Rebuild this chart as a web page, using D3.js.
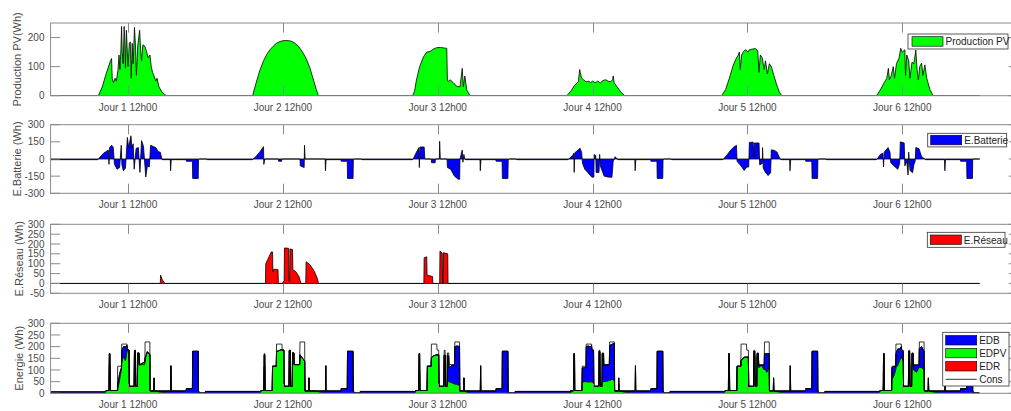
<!DOCTYPE html>
<html>
<head>
<meta charset="utf-8">
<script src="https://cdn.jsdelivr.net/npm/d3@7/dist/d3.min.js"></script>
<style>
  body { margin: 0; background: #fff; }
  svg text { font-family: "Liberation Sans", Arial, Helvetica, sans-serif; }
</style>
</head>
<body>
<svg id="chart" width="1011" height="411"></svg>
<script>
// ---- time axis (hours from day 1, 00h00) ----
const xTicks = [12, 36, 60, 84, 108, 132];
const xTickLabels = ["Jour 1 12h00", "Jour 2 12h00", "Jour 3 12h00", "Jour 4 12h00", "Jour 5 12h00", "Jour 6 12h00"];

// ---- PV production (Wh), [hour, value] ----
const pvProduction = [
  [0,0],[7.4,0],[8.0,30],[8.6,75],[9.2,115],[9.45,128],[9.55,60],[9.75,45],[10.0,60],[10.2,50],[10.45,90],[10.6,140],[10.75,90],[10.9,160],[11.0,238],[11.1,150],[11.25,110],[11.4,238],[11.5,190],[11.6,95],[11.75,225],[11.85,170],[12.0,100],[12.2,180],[12.35,185],[12.5,60],[12.65,180],[12.8,110],[13.0,235],[13.15,175],[13.3,70],[13.5,170],[13.8,225],[13.95,160],[14.1,120],[14.3,175],[14.6,170],[14.9,150],[15.1,130],[15.4,140],[15.6,100],[15.8,80],[16.0,70],[16.3,50],[16.5,60],[16.8,30],[17.2,15],[17.6,5],[18.0,0],
  [31.3,0],[31.8,40],[32.4,85],[33.0,120],[33.5,142],[34.0,158],[34.5,170],[35.0,180],[35.5,186],[36.0,189],[36.6,190],[37.2,188],[37.8,182],[38.4,170],[39.0,152],[39.6,128],[40.2,95],[40.8,50],[41.2,20],[41.5,0],
  [56.1,0],[56.4,15],[56.7,54],[57.2,100],[57.8,134],[58.3,150],[58.8,152],[59.3,160],[59.8,165],[60.4,166],[61.0,164],[61.4,163],[61.5,54],[61.65,48],[61.9,55],[62.4,45],[62.9,33],[63.45,30],[63.8,94],[63.97,30],[64.2,68],[64.5,20],[65.0,0],
  [80.0,0],[80.6,15],[81.2,35],[81.8,48],[82.0,90],[82.1,80],[82.3,60],[82.6,55],[83.0,48],[83.4,50],[83.7,45],[84.0,50],[84.4,45],[84.8,50],[85.2,44],[85.6,52],[86.0,55],[86.4,50],[86.8,48],[87.1,55],[87.2,68],[87.35,45],[87.8,30],[88.4,12],[89.0,0],
  [104.0,0],[104.6,20],[105.2,60],[105.8,105],[106.3,130],[106.6,140],[106.75,150],[106.9,90],[107.1,140],[107.5,155],[107.8,158],[108.1,150],[108.3,158],[108.7,160],[109.2,162],[109.6,155],[109.8,80],[110.0,140],[110.3,130],[110.6,90],[110.8,120],[111.1,75],[111.4,110],[111.7,100],[112.1,70],[112.5,40],[112.9,15],[113.3,0],
  [128.0,0],[128.6,20],[129.2,45],[129.6,60],[129.85,94],[130.0,55],[130.3,70],[130.6,100],[130.8,60],[131.1,110],[131.5,130],[131.76,163],[132.0,150],[132.4,158],[132.5,70],[132.7,140],[133.0,120],[133.2,60],[133.5,115],[133.8,110],[134.1,157],[134.3,90],[134.5,54],[134.7,100],[135.0,112],[135.2,70],[135.5,106],[135.8,60],[136.3,20],[136.8,0],[144,0]
];

// ---- battery energy (Wh), [hour, value]: >0 charge, <0 discharge ----
const batteryEnergy = [
  [0,-6],[7.3,-6],[7.4,0],[8.2,50],[8.95,78],[9.05,-47],[9.15,100],[9.45,120],[9.7,105],[9.9,-47],[10.3,-89],[10.7,-75],[10.95,120],[11.05,-50],[11.27,-103],[11.6,-80],[11.9,189],[12.1,100],[12.2,130],[12.45,203],[12.6,100],[12.8,133],[12.95,-89],[13.25,92],[13.6,100],[13.85,-117],[14.1,161],[14.4,110],[14.75,-158],[15.0,-61],[15.3,-70],[15.5,120],[15.9,110],[16.3,100],[16.7,64],[17.0,60],[17.25,0],[17.3,-6],[18.55,-6],[18.6,-103],[18.7,-6],[21.0,-6],[21.05,-20],[21.98,-20],[22.02,-170],[22.88,-170],[22.92,-6],[23.1,0],[24.2,0],
  [24.25,-6],[31.3,-6],[31.4,0],[31.8,20],[32.45,64],[33.0,108],[33.05,-47],[33.2,0],[35.3,0],[35.35,-20],[35.8,-20],[35.85,0],[38.65,0],[38.7,-60],[39.3,-75],[39.35,120],[39.45,0],[42.55,0],[42.6,-103],[42.7,-6],[45.0,-6],[45.05,-20],[45.98,-20],[46.02,-170],[46.88,-170],[46.92,-6],[47.1,0],[48.2,0],
  [48.25,-6],[56.1,-6],[56.2,0],[56.7,60],[57.1,100],[57.15,-75],[57.25,105],[57.9,105],[58.0,0],[59.0,0],[59.05,-33],[59.6,-33],[59.65,0],[60.25,0],[60.3,155],[60.4,0],[61.45,0],[61.5,-75],[62.0,-89],[62.6,-150],[63.2,-178],[63.4,-178],[63.45,0],[63.8,78],[63.9,-28],[64.05,40],[64.2,0],[64.3,-6],[66.55,-6],[66.6,-103],[66.7,-6],[69.0,-6],[69.05,-20],[69.98,-20],[70.02,-170],[70.88,-170],[70.92,-6],[71.1,0],[72.2,0],
  [72.25,-6],[80.2,-6],[80.3,0],[80.9,30],[81.1,50],[81.15,-117],[81.25,55],[81.8,80],[82.05,95],[82.3,60],[82.45,-40],[82.8,-90],[83.3,-120],[83.9,-160],[84.2,-158],[84.25,40],[84.5,30],[84.55,-117],[85.0,-117],[85.1,40],[85.2,-60],[85.8,-150],[86.4,-158],[87.0,-160],[87.2,-20],[87.5,20],[87.8,0],[88.0,-6],[90.55,-6],[90.6,-103],[90.7,-6],[93.0,-6],[93.05,-20],[93.98,-20],[94.02,-170],[94.88,-170],[94.92,-6],[95.1,0],[96.2,0],
  [96.25,-6],[104.2,-6],[104.3,0],[104.9,40],[105.3,70],[105.8,100],[106.3,120],[106.4,-20],[107.0,-60],[107.5,-100],[107.9,-70],[108.2,-70],[108.3,145],[108.9,147],[109.0,20],[109.1,140],[109.8,140],[109.9,-50],[110.3,-40],[110.35,100],[110.45,-80],[110.8,-117],[111.2,-145],[111.6,-120],[111.7,80],[112.2,75],[112.6,60],[112.9,20],[113.1,0],[113.2,-6],[114.55,-6],[114.6,-103],[114.7,-6],[117.0,-6],[117.05,-20],[117.98,-20],[118.02,-170],[118.88,-170],[118.92,-6],[119.1,0],[120.2,0],
  [120.25,-6],[128.0,-6],[128.1,0],[128.6,40],[129.0,50],[129.1,-70],[129.2,60],[129.8,100],[130.1,60],[130.2,-30],[130.7,-60],[131.3,-90],[131.6,-40],[131.7,150],[132.3,140],[132.4,-60],[132.7,-20],[132.9,-140],[133.0,60],[133.2,-100],[133.6,-120],[133.8,-50],[134.0,-20],[134.1,100],[134.6,90],[135.0,20],[135.4,5],[135.6,-6],[138.55,-6],[138.6,-103],[138.7,-6],[141.0,-6],[141.05,-20],[141.98,-20],[142.02,-170],[142.88,-170],[142.92,-6],[143.1,0],[144,0]
];

// ---- grid energy (Wh), [hour, value] ----
const gridEnergy = [
  [0,0],[17.0,0],[17.05,42],[17.3,20],[17.7,0],
  [33.3,0],[33.35,100],[34.2,160],[34.4,160],[34.45,60],[34.6,72],[35.25,70],[35.3,0],[35.9,0],[36.2,15],[36.25,180],[36.9,178],[36.95,10],[37.05,10],[37.1,175],[37.5,172],[37.55,70],[38.0,60],[38.5,35],[38.8,0],[39.55,0],[39.6,110],[40.2,95],[40.9,60],[41.4,20],[41.5,0],
  [57.85,0],[57.9,130],[58.3,135],[58.35,42],[59.2,35],[59.25,0],[60.3,0],[60.35,164],[60.7,155],[60.75,0],[60.85,0],[60.9,156],[61.55,150],[61.6,0],
  [144,0]
];

// ---- energy balance: one grid of hours within a day ----
const dayStarts = [0, 24, 48, 72, 96, 120];
const energyHours = [0,8.3,8.55,8.6,9.05,9.1,9.2,9.25,9.8,10.35,10.4,10.7,10.98,11.02,11.3,11.6,11.85,11.9,12.15,12.2,12.95,13.0,13.15,13.2,13.45,13.5,13.7,13.75,14.2,14.6,14.65,15.0,15.38,15.42,16.02,16.05,16.1,17.0,18.6,18.65,18.7,21.0,21.05,21.98,22.02,22.88,22.92,23.1,23.95];
// daily consumption profile (same each day)
const consProfile = [6,6,6,12,12,170,170,12,12,12,116,116,116,211,211,211,211,185,185,30,30,184,184,30,30,173,173,123,123,123,220,220,220,10,10,66,10,10,10,118,10,10,20,20,180,180,10,3,3];

const edpvJour1 = [0,0,8,12,12,120,120,12,12,12,15,60,105,130,160,140,180,185,185,30,30,175,175,30,30,170,170,120,128,135,150,178,165,10,10,60,10,5,0,0,0,0,0,0,0,0,0,0,0];
const edpvJour2 = [0,0,6,12,12,115,115,12,12,12,116,116,116,178,182,185,187,185,185,30,30,184,184,30,30,173,173,123,123,123,165,152,138,10,10,66,10,10,0,0,0,0,0,0,0,0,0,0,0];
const edpvJour3 = [0,0,6,12,12,100,100,12,12,12,116,116,116,152,160,163,165,165,165,30,30,163,163,30,30,54,50,50,45,40,40,38,35,10,10,66,10,0,0,0,0,0,0,0,0,0,0,0,0];
const edpvJour4 = [0,0,0,5,10,25,25,12,12,12,48,50,50,50,48,50,48,50,45,30,30,50,48,30,30,50,50,50,52,55,55,60,55,10,10,40,10,5,0,0,0,0,0,0,0,0,0,0,0];
const edpvJour5 = [0,0,10,12,12,60,60,12,12,12,116,116,116,140,150,155,155,155,155,30,30,160,160,30,30,155,150,110,120,100,110,90,110,10,10,66,10,5,0,0,0,0,0,0,0,0,0,0,0];
const edpvJour6 = [0,0,10,12,12,50,50,12,12,12,60,75,100,110,120,140,160,150,140,30,30,140,130,30,30,110,120,100,90,110,112,110,100,10,10,50,10,5,0,0,0,0,0,0,0,0,0,0,0];

const edbJour1 = [6,6,0,0,0,50,50,0,0,0,20,25,5,50,40,60,25,0,0,0,0,9,9,0,0,3,3,3,0,0,0,0,0,0,0,6,0,5,10,118,10,10,20,20,180,180,10,0,0];
const edbJour2 = [8,8,0,0,0,50,50,0,0,0,0,0,0,0,0,0,0,0,0,0,0,0,0,0,0,0,0,0,0,0,0,0,0,0,0,0,0,0,10,118,10,10,20,20,180,180,10,0,0];
const edbJour3 = [8,8,0,0,0,70,70,0,0,0,0,0,0,0,0,0,0,0,0,0,0,0,0,0,0,110,110,60,75,80,160,165,165,0,0,0,0,10,10,118,10,10,20,20,180,180,10,0,0];
const edbJour4 = [8,8,6,7,2,145,145,0,0,0,60,60,60,150,155,150,155,135,140,0,0,130,130,0,0,120,120,70,70,68,150,150,160,0,0,26,0,5,10,118,10,10,20,20,180,180,10,0,0];
const edbJour5 = [8,8,0,0,0,110,110,0,0,0,0,0,0,0,0,0,0,0,0,0,0,20,20,0,0,15,20,10,0,20,60,80,60,0,0,0,0,5,10,118,10,10,20,20,180,180,10,0,0];
const edbJour6 = [8,8,0,0,0,120,120,0,0,0,50,40,16,60,70,50,40,35,40,0,0,40,50,0,0,60,50,20,30,10,80,90,80,0,0,16,0,5,10,118,10,10,20,20,180,180,10,0,0];

const edrJour = [0,0,0,0,0,0,0,0,0,0,0,0,0,0,0,0,0,0,0,0,0,0,0,0,0,0,0,0,0,0,0,0,0,0,0,0,0,0,0,0,0,0,0,0,0,0,0,0,0];

// ---- layout ----
const svg = d3.select("#chart");
const xLeft = 50.6, xRight = 1018.4;
const x = d3.scaleLinear().domain([0, 150]).range([xLeft, xRight]);
const tickLen = 9.6;
const axisColor = "#8a8a8a";
const textColor = "#4a4a4a";

const panels = [
  { top: 23, bottom: 95.7, domain: [0, 250], ticks: [0, 100, 200], label: "Production PV(Wh)", labelX: 17.5 },
  { top: 124.7, bottom: 193.3, domain: [-300, 300], ticks: [-300, -150, 0, 150, 300], label: "E.Batterie (Wh)", labelX: 17.5 },
  { top: 224.3, bottom: 293.3, domain: [-50, 300], ticks: [-50, 0, 50, 100, 150, 200, 250, 300], label: "E.Réseau (Wh)", labelX: 19 },
  { top: 323.3, bottom: 393.3, domain: [0, 300], ticks: [0, 50, 100, 150, 200, 250, 300], label: "Energie (Wh)", labelX: 19 }
];

panels.forEach((p, i) => {
  p.y = d3.scaleLinear().domain(p.domain).range([p.bottom, p.top]);
  svg.append("clipPath").attr("id", "clip" + i)
    .append("rect").attr("x", xLeft).attr("y", p.top)
    .attr("width", xRight - xLeft).attr("height", p.bottom - p.top);
  p.g = svg.append("g");
  p.plot = p.g.append("g").attr("clip-path", `url(#clip${i})`);
});

function drawFrame(p) {
  const g = p.g.append("g");
  g.append("rect").attr("x", xLeft).attr("y", p.top)
    .attr("width", xRight - xLeft).attr("height", p.bottom - p.top)
    .attr("fill", "none").attr("stroke", axisColor).attr("stroke-width", 1);
  xTicks.forEach((t, k) => {
    const xx = Math.round(x(t)) + 0.5;
    g.append("line").attr("x1", xx).attr("x2", xx).attr("y1", p.bottom).attr("y2", p.bottom - tickLen)
      .attr("stroke", axisColor);
    g.append("line").attr("x1", xx).attr("x2", xx).attr("y1", p.top).attr("y2", p.top + tickLen)
      .attr("stroke", axisColor);
    g.append("text").attr("x", x(t)).attr("y", p.bottom + 15)
      .attr("text-anchor", "middle").attr("font-size", 10).attr("fill", textColor)
      .text(xTickLabels[k]);
  });
  p.ticks.forEach(v => {
    const yy = p.y(v);
    g.append("line").attr("x1", xLeft).attr("x2", xLeft + tickLen).attr("y1", yy).attr("y2", yy).attr("stroke", axisColor);
    g.append("line").attr("x1", xRight).attr("x2", xRight - tickLen).attr("y1", yy).attr("y2", yy).attr("stroke", axisColor);
    g.append("text").attr("x", 44.5).attr("y", yy + 3.6)
      .attr("text-anchor", "end").attr("font-size", 10).attr("fill", textColor).text(v);
  });
  g.append("text")
    .attr("transform", `translate(${p.labelX},${(p.top + p.bottom) / 2}) rotate(-90)`)
    .attr("text-anchor", "middle").attr("dy", "0.35em")
    .attr("font-size", 11).attr("fill", textColor).text(p.label);
}

function drawSeries(p, data, color) {
  const area = d3.area().x(d => x(d[0])).y0(p.y(0)).y1(d => p.y(d[1]));
  p.plot.append("path").datum(data).attr("d", area)
    .attr("fill", color).attr("stroke", "#000").attr("stroke-width", 0.8).attr("stroke-linejoin", "miter");
}

drawFrame(panels[0]); drawFrame(panels[1]); drawFrame(panels[2]); drawFrame(panels[3]);

drawSeries(panels[0], pvProduction, "#00ff00");
drawSeries(panels[1], batteryEnergy, "#0000ff");
drawSeries(panels[2], gridEnergy, "#ff0000");

// energy balance: stacked supply areas + consumption line
const edpvDays = [edpvJour1, edpvJour2, edpvJour3, edpvJour4, edpvJour5, edpvJour6];
const edbDays = [edbJour1, edbJour2, edbJour3, edbJour4, edbJour5, edbJour6];
const rows = [];
dayStarts.forEach((d0, k) => {
  energyHours.forEach((t, i) => {
    rows.push({ h: d0 + t, EDPV: edpvDays[k][i], EDB: edbDays[k][i], EDR: edrJour[i], Cons: consProfile[i] });
  });
});
const layers = d3.stack().keys(["EDPV", "EDB", "EDR"])(rows);
const layerColor = { EDPV: "#00ff00", EDB: "#0000ff", EDR: "#ff0000" };
const p4 = panels[3];
const stackArea = d3.area().x(d => x(d.data.h)).y0(d => p4.y(d[0])).y1(d => p4.y(d[1]));
layers.forEach(L => {
  p4.plot.append("path").datum(L).attr("d", stackArea)
    .attr("fill", layerColor[L.key]).attr("stroke", "#000").attr("stroke-width", 0.6);
});
p4.plot.append("path").datum(rows)
  .attr("d", d3.line().x(d => x(d.h)).y(d => p4.y(d.Cons)))
  .attr("fill", "none").attr("stroke", "#000").attr("stroke-width", 0.8);

// ---- legends ----
function legendBox(xb, yb, w, h) {
  svg.append("rect").attr("x", xb).attr("y", yb).attr("width", w).attr("height", h)
    .attr("fill", "#fff").attr("stroke", "#333").attr("stroke-width", 0.8);
}
function legendPatch(xs, ys, color, label) {
  svg.append("rect").attr("x", xs).attr("y", ys).attr("width", 31).attr("height", 9.5)
    .attr("fill", color).attr("stroke", "#000").attr("stroke-width", 0.6);
  svg.append("text").attr("x", xs + 33.5).attr("y", ys + 8.5).attr("font-size", 10)
    .attr("fill", "#222").text(label);
}
legendBox(908, 34, 100, 15);
legendPatch(912, 36.7, "#00ff00", "Production PV");
legendBox(927.7, 133.3, 79, 13.6);
legendPatch(930.7, 135.3, "#0000ff", "E.Batterie");
legendBox(927.3, 232.3, 77.7, 15);
legendPatch(930.3, 235, "#ff0000", "E.Réseau");
legendBox(942.7, 332.3, 66.3, 53.7);
legendPatch(945.7, 335.5, "#0000ff", "EDB");
legendPatch(945.7, 348.3, "#00ff00", "EDPV");
legendPatch(945.7, 361.5, "#ff0000", "EDR");
svg.append("line").attr("x1", 945.7).attr("x2", 976.7).attr("y1", 379.3).attr("y2", 379.3)
  .attr("stroke", "#000").attr("stroke-width", 0.8);
svg.append("text").attr("x", 979.2).attr("y", 382.8).attr("font-size", 10).attr("fill", "#222").text("Cons");
</script>
</body>
</html>
